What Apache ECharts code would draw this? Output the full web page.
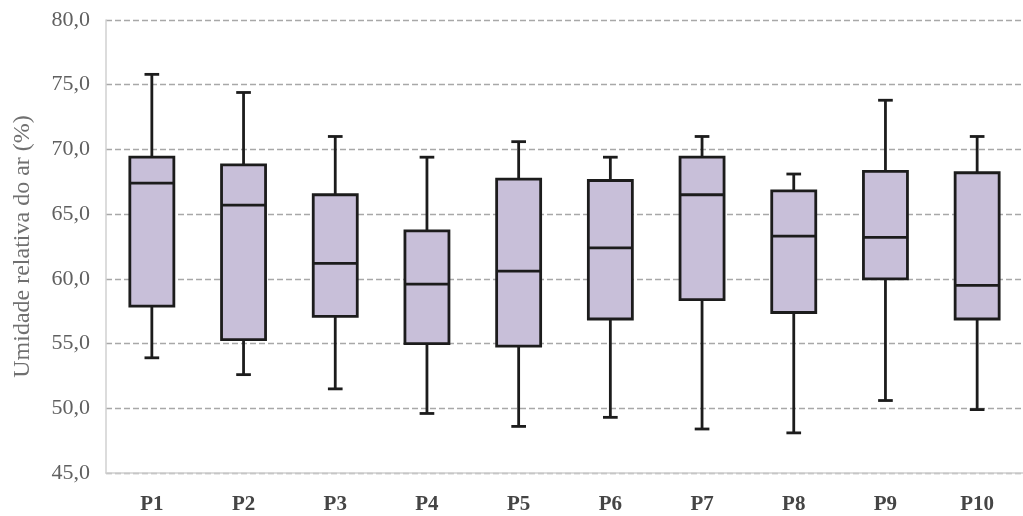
<!DOCTYPE html>
<html>
<head>
<meta charset="utf-8">
<script src="https://cdn.jsdelivr.net/npm/echarts@6/dist/echarts.min.js"></script>
<style>html,body{margin:0;padding:0;background:#fff}#c{width:1023px;height:516px}</style>
</head>
<body>
<div id="c"></div>
<script>
const categories = ['P1','P2','P3','P4','P5','P6','P7','P8','P9','P10'];
const minVals    = [53.9, 52.6, 51.5, 49.6, 48.6, 49.3, 48.4, 48.1, 50.6, 49.9];
const q1Vals     = [57.9, 55.3, 57.1, 55.0, 54.8, 56.9, 58.4, 57.4, 60.0, 56.9];
const medianVals = [67.4, 65.7, 61.2, 59.6, 60.6, 62.4, 66.5, 63.3, 63.2, 59.5];
const q3Vals     = [69.4, 68.8, 66.5, 63.7, 67.7, 67.6, 69.4, 66.8, 68.3, 68.2];
const maxVals    = [75.8, 74.4, 71.0, 69.4, 70.6, 69.4, 71.0, 68.1, 73.8, 71.0];
const yMin = 45, yMax = 80, yStep = 5;

const data = categories.map((c, i) => [i, minVals[i], q1Vals[i], medianVals[i], q3Vals[i], maxVals[i]]);

const chart = echarts.init(document.getElementById('c'));
const stroke = '#1c1c1c';
const serif = "'Liberation Serif', 'Times New Roman', serif";
chart.setOption({
  animation: false,
  grid: { left: 106, right: -13, top: 20, bottom: 43 },
  xAxis: {
    type: 'category',
    data: categories,
    axisLine: { lineStyle: { color: '#d0d0d0', width: 1.5 } },
    axisTick: { inside: true, length: 6, lineStyle: { color: '#d0d0d0' } },
    axisLabel: { fontFamily: serif, fontWeight: 'bold', fontSize: 21, color: '#454545', margin: 21 }
  },
  yAxis: {
    type: 'value',
    min: yMin, max: yMax, interval: yStep,
    name: 'Umidade relativa do ar (%)',
    nameLocation: 'middle',
    nameGap: 71,
    nameTextStyle: { fontFamily: serif, fontSize: 24, color: '#707070' },
    axisLine: { show: true, lineStyle: { color: '#d0d0d0', width: 1.5 } },
    axisTick: { show: false },
    axisLabel: {
      fontFamily: serif, fontSize: 22, color: '#606060', margin: 16,
      formatter: v => v.toFixed(1).replace('.', ',')
    },
    splitLine: { show: true, lineStyle: { color: '#a8a8a8', type: [6, 3], width: 1.3 } }
  },
  series: [{
    type: 'custom',
    data: data,
    encode: { x: 0, y: [1, 2, 3, 4, 5] },
    renderItem: function (params, api) {
      const i = api.value(0);
      const band = api.size([1, 0])[0];
      const bw = band * 0.48;
      const cw = band * 0.16;
      const pMin = api.coord([i, api.value(1)]);
      const pQ1 = api.coord([i, api.value(2)]);
      const pMed = api.coord([i, api.value(3)]);
      const pQ3 = api.coord([i, api.value(4)]);
      const pMax = api.coord([i, api.value(5)]);
      const x = pMin[0];
      const ls = { stroke: stroke, lineWidth: 2.8 };
      return {
        type: 'group',
        children: [
          { type: 'line', shape: { x1: x, y1: pMax[1], x2: x, y2: pQ3[1] }, style: ls },
          { type: 'line', shape: { x1: x, y1: pQ1[1], x2: x, y2: pMin[1] }, style: ls },
          { type: 'line', shape: { x1: x - cw / 2, y1: pMax[1], x2: x + cw / 2, y2: pMax[1] }, style: ls },
          { type: 'line', shape: { x1: x - cw / 2, y1: pMin[1], x2: x + cw / 2, y2: pMin[1] }, style: ls },
          { type: 'rect', shape: { x: x - bw / 2, y: pQ3[1], width: bw, height: pQ1[1] - pQ3[1] },
            style: { fill: '#c8bfd9', stroke: stroke, lineWidth: 2.8 } },
          { type: 'line', shape: { x1: x - bw / 2, y1: pMed[1], x2: x + bw / 2, y2: pMed[1] }, style: ls }
        ]
      };
    }
  }]
});
</script>
</body>
</html>
